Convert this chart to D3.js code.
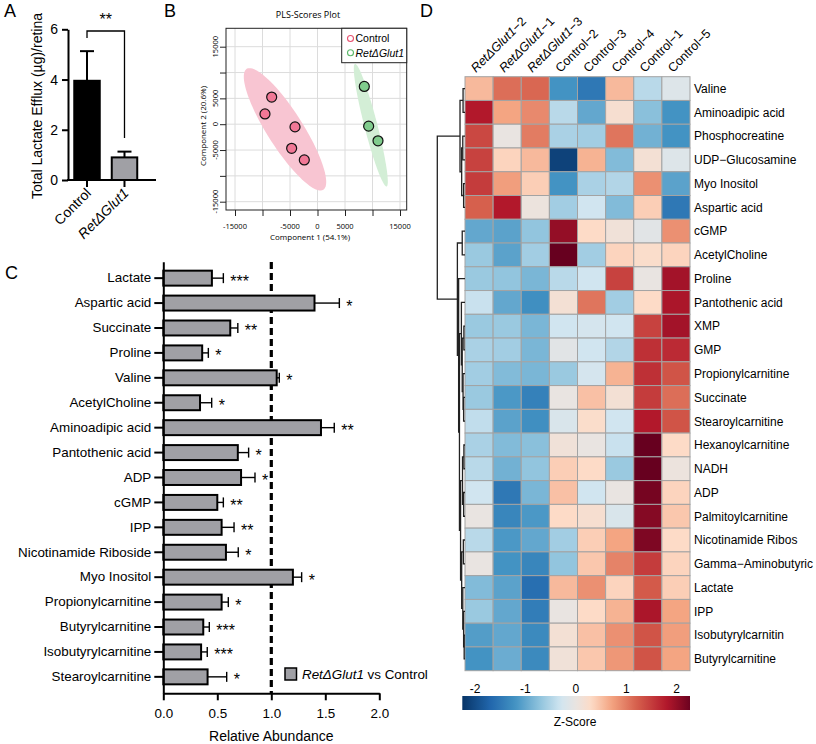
<!DOCTYPE html>
<html><head><meta charset="utf-8">
<script src="https://cdn.jsdelivr.net/npm/d3@7"></script>
<style>
body{margin:0;background:#fff}
svg{display:block}
text{font-family:"Liberation Sans",Arial,sans-serif;fill:#000}
text.ob{font-family:"Open Sans","Liberation Sans",sans-serif}
</style>
</head><body><svg id="c" width="816" height="744"></svg>
<script>
// ---------- Panel A data ----------
const aCats = ["Control", "RetΔGlut1"];
const aVals = [3.95, 0.9];
const aErrTop = [5.13, 1.13];
const aTicks = [0, 2, 4, 6];

// ---------- Panel B data ----------
const ctrlX = [-8330, -9550, -4090, -4700, -2400];
const ctrlY = [5250, 1980, -520, -4670, -6920];
const retX = [8510, 9300, 11000];
const retY = [7310, -380, -3210];
// confidence ellipses: centre, half major-axis vector, half minor-axis vector (data units)
const ellCtrl = [-5910, -990, 6965, -11700, 2764, 1846];
const ellRet = [9690, -190, 2873, -11865, 1145, 308];
const bGridTicks = [-15000, -10000, -5000, 0, 5000, 10000, 15000];
const bXLabels = [-15000, -5000, 0, 5000, 15000];
const bYLabels = [-15000, -5000, 0, 5000, 15000];

// ---------- Panel C data ----------
const cCats = ["Lactate","Aspartic acid","Succinate","Proline","Valine","AcetylCholine","Aminoadipic acid","Pantothenic acid","ADP","cGMP","IPP","Nicotinamide Riboside","Myo Inositol","Propionylcarnitine","Butyrylcarnitine","Isobutyrylcarnitine","Stearoylcarnitine"];
const cVals = [0.45, 1.40, 0.62, 0.36, 1.05, 0.34, 1.46, 0.69, 0.72, 0.50, 0.54, 0.58, 1.20, 0.54, 0.37, 0.35, 0.41];
const cErrTop = [0.556, 1.63, 0.69, 0.417, 1.074, 0.448, 1.583, 0.79, 0.849, 0.556, 0.655, 0.694, 1.281, 0.602, 0.426, 0.407, 0.587];
const cStars = ["***","*","**","*","*","*","**","*","*","**","**","*","*","*","***","***","*"];
const cTicks = [0, 0.5, 1.0, 1.5, 2.0];

// ---------- Panel D data ----------
const hmCols = ["RetΔGlut1−2","RetΔGlut1−1","RetΔGlut1−3","Control−2","Control−3","Control−4","Control−1","Control−5"];
const hmRows = ["Valine","Aminoadipic acid","Phosphocreatine","UDP−Glucosamine","Myo Inositol","Aspartic acid","cGMP","AcetylCholine","Proline","Pantothenic acid","XMP","GMP","Propionylcarnitine","Succinate","Stearoylcarnitine","Hexanoylcarnitine","NADH","ADP","Palmitoylcarnitine","Nicotinamide Ribos","Gamma−Aminobutyric","Lactate","IPP","Isobutyrylcarnitin","Butyrylcarnitine"];
const hmZ = [
 [0.55, 1.1, 1.15, -1.2, -1.5, 0.55, -0.45, -0.15],
 [1.8, 0.7, 0.9, -0.45, -1.0, 0.2, -0.75, -1.2],
 [1.4, 0.0, 1.0, -0.55, -0.6, 1.05, -0.9, -1.2],
 [1.45, 0.35, 0.55, -2.1, 0.6, -0.8, 0.15, -0.15],
 [1.5, 0.75, 0.4, -1.2, -0.55, -0.5, 0.85, -1.05],
 [1.2, 1.8, 0.05, -0.6, -0.3, -0.8, 0.4, -1.5],
 [-1.0, -1.05, -0.7, 2.0, 0.3, 0.1, -0.1, 0.85],
 [-0.65, -1.05, -0.6, 2.3, -0.6, 0.35, 0.25, 0.35],
 [-0.65, -0.7, -0.85, -0.45, -0.3, 1.45, 0.0, 1.9],
 [-0.35, -1.0, -1.25, 0.15, 1.05, -0.6, 0.3, 1.85],
 [-0.65, -0.65, -0.85, -0.3, -0.25, -0.3, 1.45, 1.9],
 [-0.55, -0.6, -0.85, -0.1, -0.3, -0.5, 1.6, 1.65],
 [-0.6, -0.8, -0.85, -0.65, -0.25, 0.6, 1.6, 1.3],
 [-0.65, -1.15, -1.4, 0.0, 0.5, 0.15, 1.5, 1.1],
 [-0.4, -1.05, -1.25, -0.2, 0.25, -0.3, 1.8, 1.3],
 [-0.55, -0.8, -0.75, 0.1, 0.0, -0.35, 2.45, 0.3],
 [-0.45, -0.9, -0.7, 0.4, 0.3, -0.65, 2.35, 0.05],
 [-0.3, -1.5, -0.85, 0.5, -0.3, 0.0, 2.2, 0.35],
 [0.0, -1.35, -1.15, 0.3, 0.2, -0.2, 2.1, 0.45],
 [-0.45, -1.15, -1.0, -0.6, 0.4, 0.7, 2.15, 0.3],
 [0.0, -1.2, -1.35, -0.7, 0.45, 0.95, 1.5, 0.35],
 [-0.8, -1.05, -1.6, 0.55, 0.85, 0.35, 1.25, 0.4],
 [-0.65, -1.0, -1.45, 0.0, 0.3, 0.6, 1.85, 0.7],
 [-1.1, -1.0, -1.3, 0.15, 0.5, 0.85, 1.3, 0.75],
 [-1.2, -0.95, -1.3, 0.1, 0.45, 0.8, 1.3, 0.7]
];
// row dendrogram: [height, left, right]; leaves are row indices
const dendro = [10,
  [1.8, [0.7, 0, 1], [1.2, [0.8, 2, 3], [0.5, 4, 5]]],
  [2.75, [1.0, 6, 7],
    [2.3, 8,
      [2.0,
        [1.3, 9, [1.0, [0.4, 10, 11], [0.7, 12, [0.5, 13, 14]]]],
        [1.6, [0.9, [0.4, 15, 16], [0.5, 17, 18]], [1.2, [0.6, 19, 20], [0.8, 21, [0.5, 22, [0.3, 23, 24]]]]]
      ]
    ]
  ]
];
const zTicks = [-2, -1, 0, 1, 2];

const svg = d3.select("#c");
const FF = '"Liberation Sans",Arial,sans-serif';

function styleAxisText(sel, fs) {
  sel.attr("font-size", fs).attr("font-family", FF);
  sel.selectAll("text").style("font-size", fs + "px").style("font-family", FF).attr("fill", "#000");
}

// ================= Panel A =================
{
  const g = svg.append("g");
  g.append("text").attr("x", 4).attr("y", 17).style("font-size", "18px").text("A");
  const x = d3.scaleBand().domain(aCats).range([68, 143.5]).paddingInner(0.32).paddingOuter(0.167);
  const y = d3.scaleLinear().domain([0, 6]).range([180, 29.3]);
  const yAx = g.append("g").attr("transform", "translate(68,0)")
    .call(d3.axisLeft(y).tickValues(aTicks).tickSize(6).tickSizeOuter(0).tickPadding(4).tickFormat(d3.format("d")));
  yAx.selectAll("path,line").attr("stroke", "#000").attr("stroke-width", 2);
  styleAxisText(yAx, 14);
  // bars
  g.selectAll(".bar").data(aCats).join("rect")
    .attr("x", d => x(d)).attr("width", x.bandwidth())
    .attr("y", (d, i) => y(aVals[i])).attr("height", (d, i) => y(0) - y(aVals[i]))
    .attr("fill", (d, i) => i === 0 ? "#000" : "#a0a0a5").attr("stroke", "#000").attr("stroke-width", 2);
  // error bars
  aCats.forEach((d, i) => {
    const cx = x(d) + x.bandwidth() / 2;
    g.append("line").attr("x1", cx).attr("x2", cx).attr("y1", y(aVals[i])).attr("y2", y(aErrTop[i])).attr("stroke", "#000").attr("stroke-width", 2);
    g.append("line").attr("x1", cx - 7).attr("x2", cx + 7).attr("y1", y(aErrTop[i])).attr("y2", y(aErrTop[i])).attr("stroke", "#000").attr("stroke-width", 2);
  });
  // x axis
  g.append("line").attr("x1", 67).attr("x2", 156).attr("y1", y(0)).attr("y2", y(0)).attr("stroke", "#000").attr("stroke-width", 2);
  aCats.forEach((d, i) => {
    const cx = x(d) + x.bandwidth() / 2;
    g.append("line").attr("x1", cx).attr("x2", cx).attr("y1", y(0)).attr("y2", y(0) + 7).attr("stroke", "#000").attr("stroke-width", 2);
    const t = g.append("text").style("font-size", "14px").attr("text-anchor", "end")
      .attr("transform", `translate(${cx + 5},${y(0) + 14}) rotate(-45)`);
    if (i === 1) t.attr("font-style", "italic");
    t.text(d);
  });
  // significance bracket
  const c0 = x(aCats[0]) + x.bandwidth() / 2, c1 = x(aCats[1]) + x.bandwidth() / 2;
  g.append("path").attr("d", `M${c0},38V31H${c1}V138`).attr("fill", "none").attr("stroke", "#000").attr("stroke-width", 1.3);
  g.append("text").attr("x", (c0 + c1) / 2).attr("y", 25).attr("text-anchor", "middle").style("font-size", "16px").text("**");
  g.append("text").style("font-size", "14px").attr("text-anchor", "middle")
    .attr("transform", "translate(42,106) rotate(-90)").text("Total Lactate Efflux (µg)/retina");
}

// ================= Panel B =================
{
  const g = svg.append("g");
  g.append("text").attr("x", 164).attr("y", 17).style("font-size", "18px").text("B");
  g.append("text").attr("class", "ob").attr("x", 308).attr("y", 18).attr("text-anchor", "middle").style("font-size", "9px").text("PLS-Scores Plot");
  const x = d3.scaleLinear().domain([-15000, 15000]).range([235, 400]);
  const y = d3.scaleLinear().domain([-15000, 15000]).range([201.7, 46.7]);
  const L = 226, R = 406.7, T = 28.3, B = 210;
  // grid
  g.selectAll(".gx").data(bGridTicks).join("line").attr("x1", d => x(d)).attr("x2", d => x(d)).attr("y1", T).attr("y2", B).attr("stroke", "#dcdcdc").attr("stroke-width", 1);
  g.selectAll(".gy").data(bGridTicks).join("line").attr("y1", d => y(d)).attr("y2", d => y(d)).attr("x1", L).attr("x2", R).attr("stroke", "#dcdcdc").attr("stroke-width", 1);
  // ellipses
  function ellPath(e) {
    const pts = d3.range(0, 361, 4).map(a => {
      const t = a * Math.PI / 180;
      return [x(e[0] + e[2] * Math.cos(t) + e[4] * Math.sin(t)), y(e[1] + e[3] * Math.cos(t) + e[5] * Math.sin(t))];
    });
    return d3.line()(pts) + "Z";
  }
  g.append("path").attr("d", ellPath(ellCtrl)).attr("fill", "#f8c5d2");
  g.append("path").attr("d", ellPath(ellRet)).attr("fill", "#d3eed6");
  // points
  g.selectAll(".pc").data(ctrlX).join("circle").attr("cx", d => x(d)).attr("cy", (d, i) => y(ctrlY[i])).attr("r", 5)
    .attr("fill", "#f17896").attr("stroke", "#111").attr("stroke-width", 1.2);
  g.selectAll(".pr").data(retX).join("circle").attr("cx", d => x(d)).attr("cy", (d, i) => y(retY[i])).attr("r", 5)
    .attr("fill", "#80cc8d").attr("stroke", "#111").attr("stroke-width", 1.2);
  // box
  g.append("rect").attr("x", L).attr("y", T).attr("width", R - L).attr("height", B - T).attr("fill", "none").attr("stroke", "#222").attr("stroke-width", 1);
  // ticks
  const xa = g.append("g").attr("transform", `translate(0,${B})`).call(d3.axisBottom(x).tickValues(bGridTicks).tickSize(6).tickFormat(""));
  xa.select(".domain").remove(); xa.selectAll("line").attr("stroke", "#222");
  const ya = g.append("g").attr("transform", `translate(${L},0)`).call(d3.axisLeft(y).tickValues(bGridTicks).tickSize(6).tickFormat(""));
  ya.select(".domain").remove(); ya.selectAll("line").attr("stroke", "#222");
  g.selectAll(".xl").data(bXLabels).join("text").attr("class", "ob").attr("x", d => x(d)).attr("y", 229).attr("text-anchor", "middle").style("font-size", "7.5px").text(d => d);
  g.selectAll(".yl").data(bYLabels).join("text").attr("class", "ob").attr("text-anchor", "middle").style("font-size", "7.5px")
    .attr("transform", d => `translate(218,${y(d)}) rotate(-90)`).text(d => d);
  g.append("text").attr("class", "ob").attr("x", 310).attr("y", 240).attr("text-anchor", "middle").style("font-size", "8px").text("Component 1 (54.1%)");
  g.append("text").attr("class", "ob").attr("text-anchor", "middle").style("font-size", "8px").attr("transform", "translate(206,126) rotate(-90)").text("Component 2 (20.6%)");
  // legend
  g.append("rect").attr("x", 341.7).attr("y", T).attr("width", R - 341.7).attr("height", 34.4).attr("fill", "#fff").attr("stroke", "#222").attr("stroke-width", 1);
  g.append("circle").attr("cx", 350.5).attr("cy", 38.5).attr("r", 3).attr("fill", "none").attr("stroke", "#e8506f").attr("stroke-width", 1.1);
  g.append("circle").attr("cx", 350.5).attr("cy", 52.7).attr("r", 3).attr("fill", "none").attr("stroke", "#5cb86a").attr("stroke-width", 1.1);
  g.append("text").attr("x", 355.5).attr("y", 42.3).style("font-size", "10.5px").text("Control");
  g.append("text").attr("x", 355.5).attr("y", 56.5).style("font-size", "10.5px").attr("font-style", "italic").text("RetΔGlut1");
}

// ================= Panel C =================
{
  const g = svg.append("g");
  g.append("text").attr("x", 5).attr("y", 279).style("font-size", "18px").text("C");
  const x = d3.scaleLinear().domain([0, 2]).range([163.3, 379.3]);
  const y = d3.scaleBand().domain(cCats).range([261.7, 693.3]).paddingInner(0.4).paddingOuter(0.36);
  // dashed reference line
  g.append("line").attr("x1", x(1)).attr("x2", x(1)).attr("y1", 262).attr("y2", 693).attr("stroke", "#000").attr("stroke-width", 3.2).attr("stroke-dasharray", "7,4");
  // bars
  g.selectAll(".cb").data(cCats).join("rect")
    .attr("x", x(0)).attr("y", d => y(d)).attr("height", y.bandwidth())
    .attr("width", (d, i) => x(cVals[i]) - x(0))
    .attr("fill", "#a0a0a5").attr("stroke", "#000").attr("stroke-width", 2);
  cCats.forEach((d, i) => {
    const cy = y(d) + y.bandwidth() / 2;
    g.append("line").attr("x1", x(cVals[i])).attr("x2", x(cErrTop[i])).attr("y1", cy).attr("y2", cy).attr("stroke", "#000").attr("stroke-width", 1.4);
    g.append("line").attr("x1", x(cErrTop[i])).attr("x2", x(cErrTop[i])).attr("y1", cy - 5).attr("y2", cy + 5).attr("stroke", "#000").attr("stroke-width", 1.4);
    g.append("text").attr("x", x(cErrTop[i]) + 7).attr("y", cy + 8.5).style("font-size", "16px").text(cStars[i]);
  });
  const ya = g.append("g").attr("transform", `translate(${x(0)},0)`).call(d3.axisLeft(y).tickSize(9).tickSizeOuter(0).tickPadding(3));
  ya.selectAll("path,line").attr("stroke", "#000").attr("stroke-width", 2);
  styleAxisText(ya, 13.4);
  const xa = g.append("g").attr("transform", "translate(0,693.3)").call(d3.axisBottom(x).tickValues(cTicks).tickSize(7).tickSizeOuter(0).tickPadding(8).tickFormat(d3.format(".1f")));
  xa.selectAll("path,line").attr("stroke", "#000").attr("stroke-width", 2);
  styleAxisText(xa, 13.4);
  g.append("text").attr("x", x(1)).attr("y", 741).attr("text-anchor", "middle").style("font-size", "14px").text("Relative Abundance");
  // legend
  g.append("rect").attr("x", 285).attr("y", 668).attr("width", 11.5).attr("height", 12).attr("fill", "#a0a0a5").attr("stroke", "#000").attr("stroke-width", 1.5);
  const lt = g.append("text").attr("x", 302).attr("y", 679).style("font-size", "13.4px");
  lt.append("tspan").attr("font-style", "italic").text("RetΔGlut1");
  lt.append("tspan").text(" vs Control");
}

// ================= Panel D =================
{
  const g = svg.append("g");
  g.append("text").attr("x", 420).attr("y", 17).style("font-size", "18px").text("D");
  const x = d3.scaleBand().domain(hmCols).range([465, 690]);
  const y = d3.scaleBand().domain(hmRows).range([76.7, 670.7]);
  const color = d3.scaleLinear()
    .domain([-2.3, -1.7, -1.2, -0.7, -0.3, 0, 0.3, 0.7, 1.2, 1.8, 2.3])
    .range(["#053061", "#2166ac", "#4393c3", "#92c5de", "#d1e5f0", "#e9e4e1", "#fddbc7", "#f4a582", "#d6604d", "#b2182b", "#67001f"])
    .clamp(true);
  hmRows.forEach((r, i) => {
    g.selectAll(null).data(hmZ[i]).join("rect")
      .attr("x", (d, j) => x(hmCols[j])).attr("y", y(r))
      .attr("width", x.bandwidth()).attr("height", y.bandwidth())
      .attr("fill", d => color(d)).attr("stroke", "#a3a3a3").attr("stroke-width", 1);
  });
  // row labels
  g.selectAll(".rl").data(hmRows).join("text").attr("x", 694).attr("y", d => y(d) + y.bandwidth() / 2 + 4.3)
    .style("font-size", "12px").text(d => d);
  // column labels
  hmCols.forEach(c => {
    const t = g.append("text").style("font-size", "12.5px")
      .attr("transform", `translate(${x(c) + x.bandwidth() / 2 - 3},73) rotate(-45)`);
    const m = c.match(/^(RetΔGlut1)(.*)$/);
    if (m) {
      t.append("tspan").attr("font-style", "italic").text(m[1]);
      t.append("tspan").text(m[2]);
    } else t.text(c);
  });
  // dendrogram
  const dx = d3.scaleLinear().domain([0, 10]).range([465, 437.3]);
  function draw(node) {
    if (typeof node === "number") return { y: y(hmRows[node]) + y.bandwidth() / 2, h: 0 };
    const a = draw(node[1]), b = draw(node[2]);
    const xh = dx(node[0]);
    g.append("path").attr("d", `M${dx(a.h)},${a.y}H${xh}V${b.y}H${dx(b.h)}`)
      .attr("fill", "none").attr("stroke", "#222").attr("stroke-width", 1.3);
    return { y: (a.y + b.y) / 2, h: node[0] };
  }
  draw(dendro);
  // colour bar
  const cb = d3.scaleLinear().domain([-2, 2]).range([475, 676.7]);
  const lo = cb.invert(462.3), hi = cb.invert(690);
  const grad = svg.append("defs").append("linearGradient").attr("id", "zg");
  d3.range(0, 1.0001, 0.02).forEach(t => {
    grad.append("stop").attr("offset", t).attr("stop-color", color(lo + t * (hi - lo)));
  });
  g.append("rect").attr("x", 462.3).attr("y", 696).attr("width", 690 - 462.3).attr("height", 14).attr("fill", "url(#zg)");
  g.selectAll(".zt").data(zTicks).join("text").attr("x", d => cb(d)).attr("y", 693).attr("text-anchor", "middle")
    .style("font-size", "12px").text(d => d < 0 ? "-" + Math.abs(d) : d);
  g.append("text").attr("x", 575).attr("y", 726).attr("text-anchor", "middle").style("font-size", "12px").text("Z-Score");
}
</script></body></html>
